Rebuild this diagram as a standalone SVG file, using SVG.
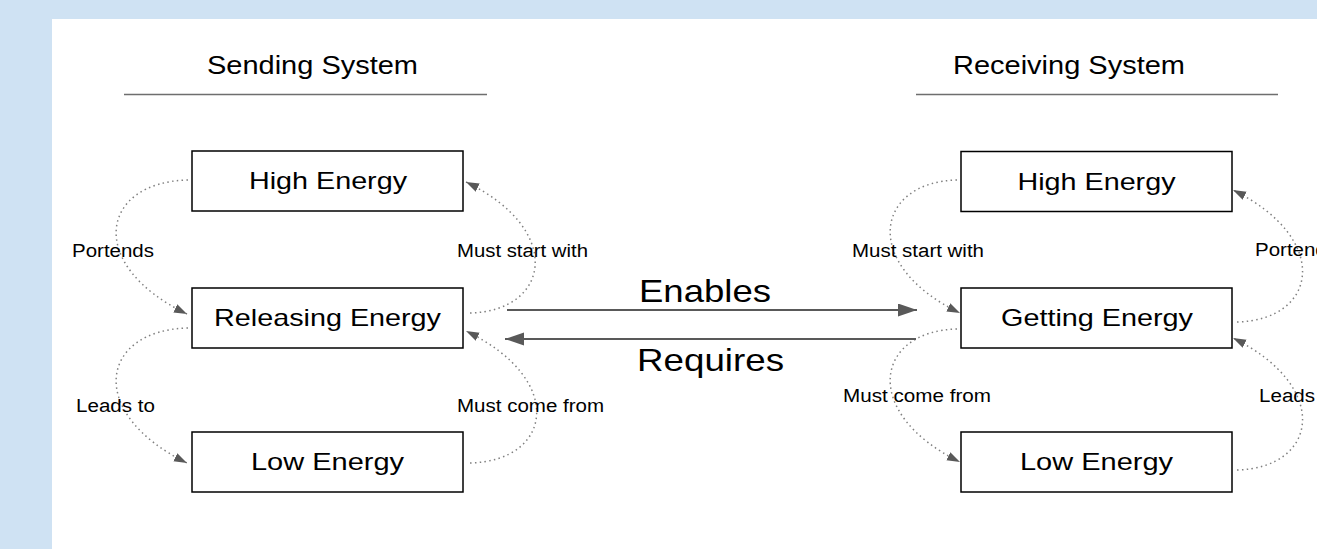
<svg xmlns="http://www.w3.org/2000/svg" width="1317" height="549" viewBox="0 0 1317 549">
<defs>
<style>
.box{fill:#fff;stroke:#000;stroke-width:1.5}
.bt{font-family:"Liberation Sans",Arial,sans-serif;font-size:24px;fill:#000;text-anchor:middle}
.tt{font-family:"Liberation Sans",Arial,sans-serif;font-size:25px;fill:#000;text-anchor:middle}
.lt{font-family:"Liberation Sans",Arial,sans-serif;font-size:18px;fill:#000}
.big{font-family:"Liberation Sans",Arial,sans-serif;font-size:32px;fill:#000;text-anchor:middle}
.dot{fill:none;stroke:#808080;stroke-width:1.5;stroke-dasharray:1.5 3.3;marker-end:url(#ah)}
.solid{fill:none;stroke:#595959;stroke-width:2;marker-end:url(#ahb)}
.rule{stroke:#6e6e6e;stroke-width:1.5}
</style>
<marker id="ah" markerUnits="userSpaceOnUse" markerWidth="14" markerHeight="10" refX="13" refY="4.5" orient="auto">
<path d="M0,0 L13,4.5 L0,9 z" fill="#595959"/>
</marker>
<marker id="ahb" markerUnits="userSpaceOnUse" markerWidth="20" markerHeight="14" refX="19" refY="6.5" orient="auto">
<path d="M0,0 L19,6.5 L0,13 z" fill="#595959"/>
</marker>
</defs>
<rect x="0" y="0" width="1317" height="549" fill="#cfe2f3"/>
<rect x="52" y="19" width="1265" height="530" fill="#fff"/>

<g id="headings">
<text class="tt" x="312.5" y="74" textLength="211" lengthAdjust="spacingAndGlyphs">Sending System</text>
<line class="rule" x1="124" y1="94.5" x2="487" y2="94.5"/>
<text class="tt" x="1069" y="74" textLength="232" lengthAdjust="spacingAndGlyphs">Receiving System</text>
<line class="rule" x1="916" y1="94.5" x2="1278" y2="94.5"/>
</g>

<g id="connectors">
<path class="dot" d="M188,180 C100,182 85,265 187,314"/>
<path class="dot" d="M188,328 C100,330 85,413 187,463"/>
<path class="dot" d="M470,313 C550,311 565,230 466,182"/>
<path class="dot" d="M470,463 C552,461 567,380 466,331"/>
<path class="dot" d="M957,180 C875,182 860,265 960,313"/>
<path class="dot" d="M957,329 C875,331 860,413 960,462"/>
<path class="dot" d="M1237,322 C1318,320 1332,239 1233,190"/>
<path class="dot" d="M1237,470 C1318,468 1332,387 1233,338"/>
<path class="solid" d="M507,310 L917,310"/>
<path class="solid" d="M916,339 L505,339"/>
<text class="lt" x="72" y="256.5" textLength="82" lengthAdjust="spacingAndGlyphs">Portends</text>
<text class="lt" x="76" y="411.5" textLength="79" lengthAdjust="spacingAndGlyphs">Leads to</text>
<text class="lt" x="457" y="256.5" textLength="131" lengthAdjust="spacingAndGlyphs">Must start with</text>
<text class="lt" x="457" y="411.5" textLength="147" lengthAdjust="spacingAndGlyphs">Must come from</text>
<text class="lt" x="852" y="256.5" textLength="132" lengthAdjust="spacingAndGlyphs">Must start with</text>
<text class="lt" x="843" y="401.5" textLength="148" lengthAdjust="spacingAndGlyphs">Must come from</text>
<text class="lt" x="1255" y="255.5" textLength="82" lengthAdjust="spacingAndGlyphs">Portends</text>
<text class="lt" x="1259" y="401.5" textLength="79" lengthAdjust="spacingAndGlyphs">Leads to</text>
<text class="big" x="705" y="302" textLength="132" lengthAdjust="spacingAndGlyphs">Enables</text>
<text class="big" x="710.5" y="371" textLength="147" lengthAdjust="spacingAndGlyphs">Requires</text>
</g>

<g id="send-high">
<rect class="box" x="192" y="151" width="271" height="60"/>
<text class="bt" x="328" y="189" textLength="158" lengthAdjust="spacingAndGlyphs">High Energy</text>
</g>
<g id="send-releasing">
<rect class="box" x="192" y="288" width="271" height="60"/>
<text class="bt" x="327.5" y="326" textLength="227" lengthAdjust="spacingAndGlyphs">Releasing Energy</text>
</g>
<g id="send-low">
<rect class="box" x="192" y="432" width="271" height="60"/>
<text class="bt" x="327.5" y="470" textLength="153" lengthAdjust="spacingAndGlyphs">Low Energy</text>
</g>
<g id="recv-high">
<rect class="box" x="961" y="151.5" width="271" height="60"/>
<text class="bt" x="1096.5" y="189.5" textLength="158" lengthAdjust="spacingAndGlyphs">High Energy</text>
</g>
<g id="recv-getting">
<rect class="box" x="961" y="288" width="271" height="60"/>
<text class="bt" x="1097" y="326" textLength="192" lengthAdjust="spacingAndGlyphs">Getting Energy</text>
</g>
<g id="recv-low">
<rect class="box" x="961" y="432" width="271" height="60"/>
<text class="bt" x="1096.5" y="470" textLength="153" lengthAdjust="spacingAndGlyphs">Low Energy</text>
</g>
</svg>
